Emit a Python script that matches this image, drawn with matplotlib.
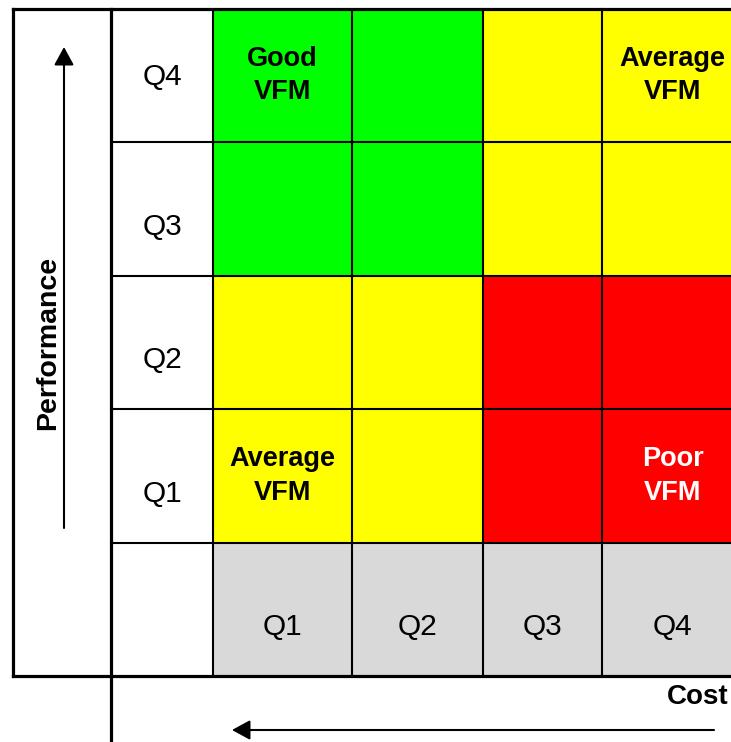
import matplotlib
matplotlib.use("Agg")
import matplotlib.pyplot as plt
from matplotlib.colors import ListedColormap
import numpy as np

plt.rcParams['font.family'] = ['Liberation Sans', 'DejaVu Sans']

# ---- data ----
cost_labels = ["Q1", "Q2", "Q3", "Q4"]                 # bottom row, left to right
performance_labels = ["Q4", "Q3", "Q2", "Q1"]          # left column, top to bottom
vfm_categories = ["Good", "Average", "Poor"]
vfm_grid = [
    ["Good", "Good", "Average", "Average"],
    ["Good", "Good", "Average", "Average"],
    ["Average", "Average", "Poor", "Poor"],
    ["Average", "Average", "Poor", "Poor"],
]
vfm_colors = ["#00FF00", "#FFFF00", "#FF0000"]
annotations = [("Good\nVFM", 0, 0), ("Average\nVFM", 0, 3),
               ("Average\nVFM", 3, 0), ("Poor\nVFM", 3, 3)]
annotation_colors = {"Good": "black", "Average": "black", "Poor": "white"}
x_title = "Cost"
y_title = "Performance"

# ---- layout (pixel coordinates) ----
W, H = 731, 742
x_edges = [213, 352, 483, 602, 743]
y_edges = [9, 142, 276, 409, 543]
bottom_row = (543, 676)
left_outer, perf_col_right = 13, 111
row_label_y = [77, 227, 360, 494]
cost_label_y = 627

fig = plt.figure(figsize=(W / 100, H / 100), dpi=100)
ax = fig.add_axes([0, 0, 1, 1])
ax.set_xlim(0, W)
ax.set_ylim(H, 0)
ax.axis("off")

# heatmap cells
idx = np.array([[vfm_categories.index(v) for v in row] for row in vfm_grid])
ax.pcolormesh(x_edges, y_edges, idx, cmap=ListedColormap(vfm_colors),
              vmin=-0.5, vmax=2.5, shading="flat")
# grey cost row
ax.fill_between([x_edges[0], x_edges[-1]], bottom_row[0], bottom_row[1],
                color="#D9D9D9", lw=0)

thin = 1.5
thick = 2.3
# grid lines
for x in x_edges[1:-1]:
    ax.plot([x, x], [y_edges[0], bottom_row[1]], color="black", lw=thin)
ax.plot([x_edges[0], x_edges[0]], [y_edges[0], bottom_row[1]], color="black", lw=thin)
for y in y_edges[1:]:
    ax.plot([perf_col_right, W], [y, y], color="black", lw=thin)
# outer frame
ax.plot([left_outer, W], [y_edges[0], y_edges[0]], color="black", lw=thick)
ax.plot([left_outer, W], [bottom_row[1], bottom_row[1]], color="black", lw=thick)
ax.plot([left_outer, left_outer], [y_edges[0], bottom_row[1]], color="black", lw=thick)
ax.plot([perf_col_right, perf_col_right], [y_edges[0], H], color="black", lw=thick)

# annotations
for text, r, c in annotations:
    cx = (x_edges[c] + x_edges[c + 1]) / 2
    cy = (y_edges[r] + y_edges[r + 1]) / 2
    ax.text(cx, cy, text, ha="center", va="center", fontsize=19.5,
            fontweight="bold", linespacing=1.35,
            color=annotation_colors[text.split("\n")[0]])

# row labels
for lab, y in zip(performance_labels, row_label_y):
    ax.text((perf_col_right + x_edges[0]) / 2, y, lab, ha="center", va="center",
            fontsize=21.5)
# cost labels
for i, lab in enumerate(cost_labels):
    ax.text((x_edges[i] + x_edges[i + 1]) / 2, cost_label_y, lab,
            ha="center", va="center", fontsize=21.5)

# axis arrows and titles
arrow = dict(arrowstyle="-|>,head_length=0.55,head_width=0.3",
             mutation_scale=20, color="black", lw=1.5, shrinkA=0, shrinkB=0)
ax.annotate("", xy=(64, 47), xytext=(64, 528), arrowprops=arrow)
ax.annotate("", xy=(232, 730), xytext=(714, 730), arrowprops=arrow)
ax.text(48, 343, y_title, rotation=90, ha="center", va="center",
        fontsize=20.5, fontweight="bold")
ax.text(729, 697, x_title, ha="right", va="center", fontsize=20,
        fontweight="bold")

fig.savefig("out.png", dpi=100)
